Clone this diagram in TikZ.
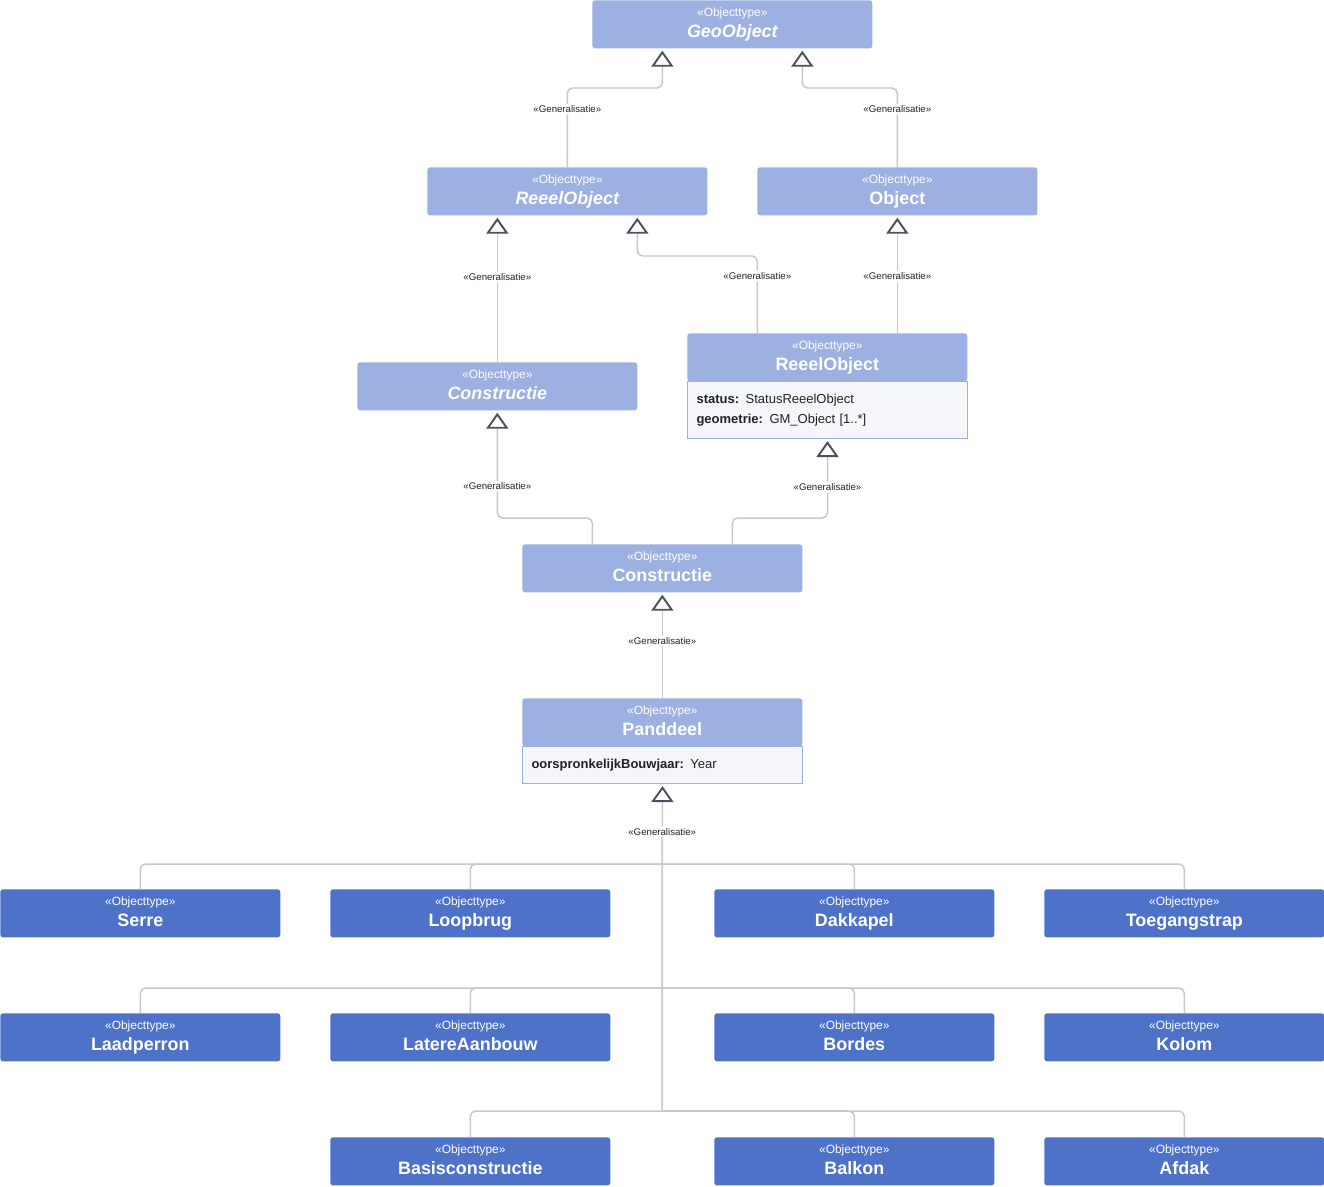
\documentclass[tikz,border=0pt]{standalone}
\usepackage{fontspec}
\setmainfont{Liberation Sans}
\usetikzlibrary{arrows.meta}

\definecolor{hdrlight}{RGB}{157,176,226}
\definecolor{hdrdark}{RGB}{79,114,201}
\definecolor{attrbg}{RGB}{245,246,250}
\definecolor{linegray}{RGB}{200,200,200}
\definecolor{tipgray}{RGB}{74,80,96}
\definecolor{txtdark}{RGB}{34,34,34}

\newcommand{\otype}[1]{{\fontsize{6.8}{10.8}\selectfont «Objecttype»}\\{\fontsize{10.2}{10.8}\selectfont\bfseries\vphantom{Ag}#1}}
\newcommand{\otypeit}[1]{{\fontsize{6.8}{10.8}\selectfont «Objecttype»}\\{\fontsize{10.2}{10.8}\selectfont\bfseries\itshape\vphantom{Ag}#1}}

\begin{document}
\begin{tikzpicture}[x=0.02cm,y=-0.02cm,
  hdr/.style={rectangle, rounded corners=1.5pt, fill=hdrlight, text=white, minimum width=5.6cm, minimum height=0.96cm, inner sep=0pt, align=center, anchor=north west},
  leaf/.style={hdr, fill=hdrdark},
  attr/.style={rectangle, draw=hdrlight, line width=0.6pt, fill=attrbg, text=txtdark, anchor=north west, align=left, text width=5.24cm, inner xsep=0.18cm, inner ysep=0pt, font=\fontsize{7.4}{11.3}\selectfont},
  genline/.style={draw=linegray, line width=0.85pt, rounded corners=3pt},
  gen/.style={genline, -{Triangle[open, length=0.32cm, width=0.44cm, line width=1.1pt, color=tipgray, fill=white]}},
  lbl/.style={fill=white, text=txtdark, inner sep=1pt, font=\fontsize{5.5}{6}\selectfont}]
%%%%%%%%%%%%%%%%%%%%%%%%%%%%%%%%%%%%%%%%%%% HELP LINES
%\draw[help lines] (0,0) grid[step=100] (1324,1186);
\useasboundingbox (0,0) rectangle (1324,1186);

%%%%%%%%%%%%%%%%%%%%%%%%%%%%%%%%%%%%%%%%%%% upper classes
\node[hdr](geo) at (592,0) {\otypeit{GeoObject}};
\node[hdr](reeelA) at (427,167) {\otypeit{ReeelObject}};
\node[hdr](object) at (757,167) {\otype{Object}};
\node[hdr](constrA) at (357,362) {\otypeit{Constructie}};
\node[hdr](reeelB) at (687,333) {\otype{ReeelObject}};
\node[attr, minimum height=1.14cm](reeelBattr) at (687,381) {\textbf{status:} StatusReeelObject\\\textbf{geometrie:} GM\_Object [1..*]};
\node[hdr](constrB) at (522,544) {\otype{Constructie}};
\node[hdr](panddeel) at (522,698) {\otype{Panddeel}};
\node[attr, minimum height=0.74cm](pdattr) at (522,746) {\textbf{oorspronkelijkBouwjaar:} Year};

%%%%% parts of a Pand
\node[leaf](serre) at (0,889) {\otype{Serre}};
\node[leaf](loopbrug) at (330,889) {\otype{Loopbrug}};
\node[leaf](dakkapel) at (714,889) {\otype{Dakkapel}};
\node[leaf](toegangstrap) at (1044,889) {\otype{Toegangstrap}};
\node[leaf](laadperron) at (0,1013) {\otype{Laadperron}};
\node[leaf](latere) at (330,1013) {\otype{LatereAanbouw}};
\node[leaf](bordes) at (714,1013) {\otype{Bordes}};
\node[leaf](kolom) at (1044,1013) {\otype{Kolom}};
\node[leaf](basis) at (330,1137) {\otype{Basisconstructie}};
\node[leaf](balkon) at (714,1137) {\otype{Balkon}};
\node[leaf](afdak) at (1044,1137) {\otype{Afdak}};

%%%%% generalisations
\draw[gen] (reeelA.north) -- node[lbl, pos=.73](g1){«Generalisatie»} ++(0,-79) -| ([shift={(-70,2)}]geo.south);
\draw[gen] (object.north) -- node[lbl, pos=.73](g2){«Generalisatie»} ++(0,-79) -| ([shift={(70,2)}]geo.south);
\draw[gen] (constrA.north) -- node[lbl, pos=.59](g3){«Generalisatie»} ([shift={(-70,2)}]reeelA.south);
\draw[gen] ([shift={(-70,0)}]reeelB.north) -- node[lbl, pos=.74](g4){«Generalisatie»} ++(0,-77) -| ([shift={(70,2)}]reeelA.south);
\draw[gen] ([shift={(70,0)}]reeelB.north) -- node[lbl, pos=.49](g5){«Generalisatie»} ([shift={(0,2)}]object.south);
\draw[gen] ([shift={(-70,0)}]constrB.north) -- ++(0,-26) -| node[lbl, pos=.65](g6){«Generalisatie»} ([shift={(0,2)}]constrA.south);
\draw[gen] ([shift={(70,0)}]constrB.north) -- ++(0,-26) -| node[lbl, pos=.7](g7){«Generalisatie»} ([shift={(0,2)}]reeelBattr.south);
\draw[gen] (panddeel.north) -- node[lbl, pos=.55](g8){«Generalisatie»} ([shift={(0,2)}]constrB.south);

%%%%% tree below Panddeel
\coordinate (row1) at (662,864);
\coordinate (row2) at (662,988);
\coordinate (row3) at (662,1111);
\foreach \part in {serre,loopbrug,dakkapel,toegangstrap} \draw[genline] (\part.north) |- (row1);
\foreach \part in {laadperron,latere,bordes,kolom} \draw[genline] (\part.north) |- (row2);
\foreach \part in {basis,balkon,afdak} \draw[genline] (\part.north) |- (row3);
\draw[gen] (row3) -- (row2) -- (row1) -- node[lbl, pos=.41](g9){«Generalisatie»} ([shift={(0,2)}]pdattr.south);
\end{tikzpicture}
\end{document}
